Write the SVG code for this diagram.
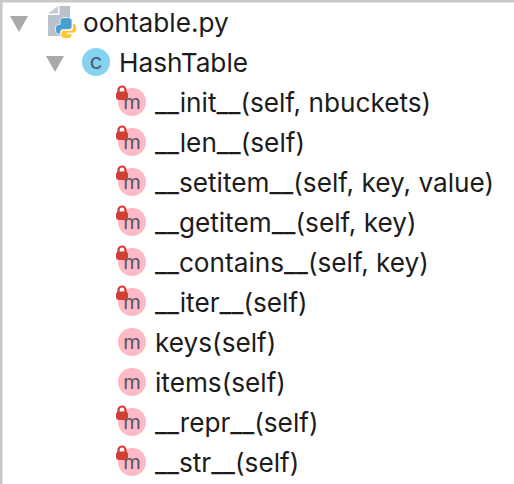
<svg xmlns="http://www.w3.org/2000/svg" width="514" height="484" viewBox="0 0 514 484">
<defs>
<style>
text{font-family:"Inter","Liberation Sans",sans-serif;font-size:26.200px;fill:#1c1c1c}
.tri{fill:#a9a9a9}
.ic{font-size:20px;fill:#555558;text-anchor:middle}
.m{fill:#fdb9c6}
.lock{fill:#cf3f35}
</style>
<g id="mi"><circle cx="132" cy="0" r="14" class="m"/><text x="132" y="7" class="ic">m</text></g>
<g id="lk"><path d="M118.500 -9v-3a3.500 3.500 0 0 1 7 0v3" fill="none" stroke="#cf3f35" stroke-width="2.200"/><rect x="116" y="-10.500" width="12" height="8.500" rx="3" class="lock"/></g>
</defs>
<rect width="514" height="484" fill="#fff"/>
<path d="M0 0H514V2.500H2.500V484H0Z" fill="#c8c8c8"/>
<g id="toggles"><path class="tri" d="M10 16H28L19 32Z"/><path class="tri" d="M46 56H64L55 72Z"/></g>
<g id="file">
<path d="M59.500 6H70V36H48V15H59.500Z" fill="#b9c2cb"/>
<path d="M48 13.500L58 6V13.500Z" fill="#c6ced5"/>
<path d="M60 24.500V20.500Q60 17.500 66 17.500Q72 17.500 72 20.500V27Q72 29.500 69 29.500H63Q60.500 29.500 60.500 32V34H58.500Q55.500 34 55.500 29Q55.500 24.500 58.500 24.500Z" fill="#4a9fd0" stroke="#fff" stroke-width="0.800"/>
<path d="M72.500 23.500H73.500Q76.500 23.500 76.500 28.500Q76.500 33 73.500 33H67V34H72V35.500Q72 38.500 66 38.500Q61 38.500 61 35.500V32.500Q61 30.500 63.500 30.500H70Q72.500 30.500 72.500 28Z" fill="#f9c82e" stroke="#fff" stroke-width="0.800"/>
<text x="83" y="32">oohtable.py</text></g>
<g id="class"><circle cx="96" cy="62" r="14" fill="#85d3ee"/><text x="96" y="68.500" class="ic" style="fill:#4a5d6e;font-size:22px">c</text><text x="119" y="72">HashTable</text></g>
<g id="n1"><use href="#mi" y="102"/><use href="#lk" y="102"/><text x="155" y="112">__init__(self, nbuckets)</text></g>
<g id="n2"><use href="#mi" y="142"/><use href="#lk" y="142"/><text x="155" y="152">__len__(self)</text></g>
<g id="n3"><use href="#mi" y="182"/><use href="#lk" y="182"/><text x="155" y="192">__setitem__(self, key, value)</text></g>
<g id="n4"><use href="#mi" y="222"/><use href="#lk" y="222"/><text x="155" y="232">__getitem__(self, key)</text></g>
<g id="n5"><use href="#mi" y="262"/><use href="#lk" y="262"/><text x="155" y="272">__contains__(self, key)</text></g>
<g id="n6"><use href="#mi" y="302"/><use href="#lk" y="302"/><text x="155" y="312">__iter__(self)</text></g>
<g id="n7"><use href="#mi" y="342"/><text x="155" y="352">keys(self)</text></g>
<g id="n8"><use href="#mi" y="382"/><text x="155" y="392">items(self)</text></g>
<g id="n9"><use href="#mi" y="422"/><use href="#lk" y="422"/><text x="155" y="432">__repr__(self)</text></g>
<g id="n10"><use href="#mi" y="462"/><use href="#lk" y="462"/><text x="155" y="472">__str__(self)</text></g>
<g id="connectors"/>
</svg>
